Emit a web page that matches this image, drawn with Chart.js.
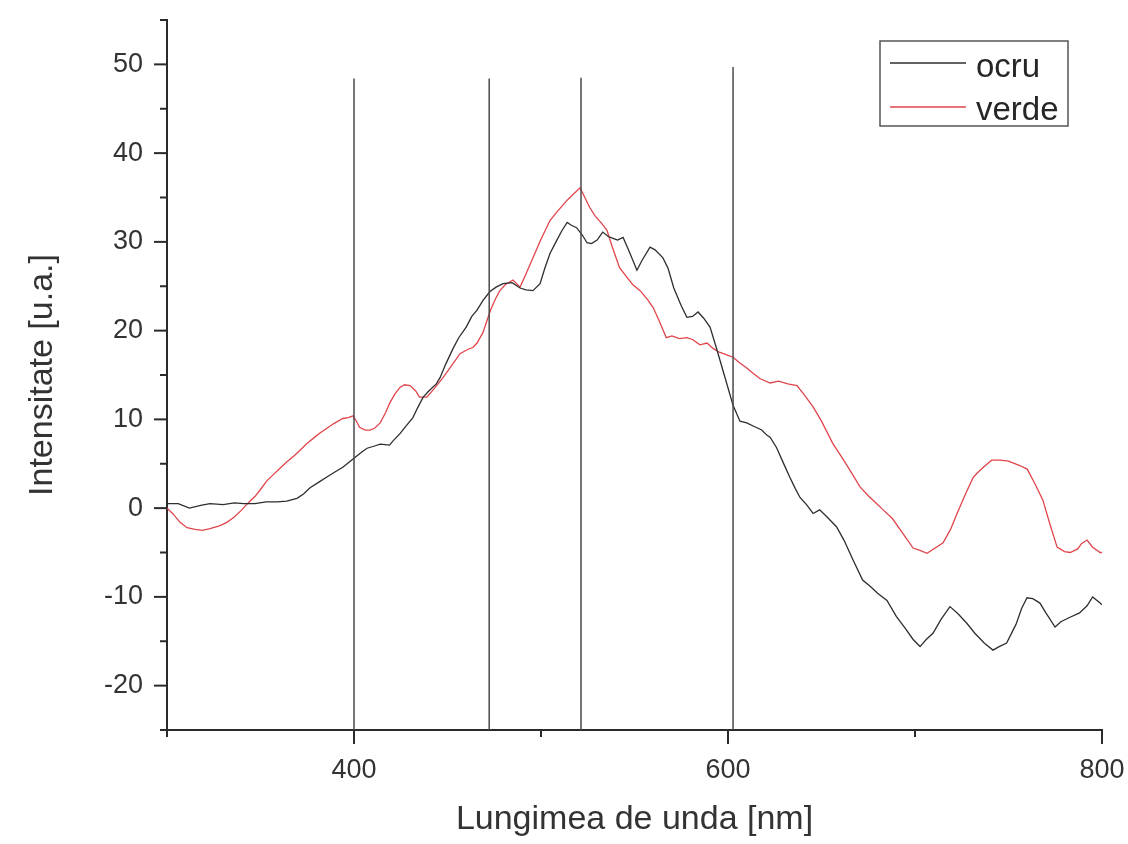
<!DOCTYPE html>
<html>
<head>
<meta charset="utf-8">
<script src="https://cdn.jsdelivr.net/npm/chart.js@4.4.1/dist/chart.umd.min.js"></script>
<style>
  html, body { margin: 0; padding: 0; background: #ffffff; }
  #wrap { width: 1128px; height: 844px; }
</style>
</head>
<body>
<div id="wrap"><canvas id="c" width="1128" height="844"></canvas></div>
<script>
// ---- data ----
const ocruX = [300,306,312,318,323,330,336,341,347,353,359,364,369.5,373,376.5,381,385.5,390,394,397,400.5,404,407,411,414,419,421,424.6,428,431.5,434,437,440,444,446,449,453,456,460,463,465.8,469,472.7,476,479.7,484.5,488.8,492,495.7,499.5,502,504.8,508,511,514,516,519,522,524.6,527,530,533,536,538.5,541,543.9,547,551.3,554,558.3,561,565.2,568,571,575,578,581,584,587,590.4,594,598,602.7,606.4,610,614,618,620.9,622.5,626,630,633,636,638.5,642,645.5,649,653,658,662,667,672,676,680,685,690,695,699,702.7,706,709.6,714,718.7,723,727.8,732,737,741.7,745,749,754,757,759.9,763,766.8,770,774.9,778,782.9,788,792,795,799,800];
const ocruY = [0.5,0.5,0.0,0.3,0.5,0.4,0.6,0.5,0.5,0.7,0.7,0.8,1.1,1.6,2.3,2.9,3.5,4.1,4.6,5.1,5.7,6.3,6.75,7.0,7.2,7.1,7.6,8.4,9.3,10.2,11.3,12.5,13.2,14.0,14.7,16.2,18.0,19.2,20.4,21.6,22.3,23.4,24.4,24.9,25.3,25.4,24.8,24.6,24.5,25.3,27.0,28.7,30.0,31.2,32.2,31.9,31.6,30.8,29.9,29.8,30.2,31.1,30.6,30.4,30.2,30.5,29.0,26.8,27.9,29.4,29.1,28.2,27.0,24.8,22.8,21.5,21.6,22.1,21.4,20.4,17.9,15.0,11.6,9.8,9.6,9.2,8.8,8.2,8.0,6.8,4.9,3.5,2.2,1.2,0.4,-0.6,-0.2,-1.0,-2.1,-3.6,-5.9,-8.1,-8.8,-9.6,-10.4,-12.2,-13.6,-14.8,-15.6,-14.8,-14.1,-12.5,-11.1,-11.9,-13.0,-14.1,-15.2,-16.0,-15.6,-15.2,-13.1,-11.3,-10.1,-10.2,-10.7,-11.8,-13.4,-12.8,-12.3,-11.8,-11.0,-10.0,-10.7,-10.9];

const verdeX = [300,303,307,310.7,315,319,323,328,332,336,340,343,347,350,353.5,357,360,364,368,371,375,379,382,385.5,389,394,397,399.5,401,403,406,408.5,411,414,417,419,422,424.6,427,430,433,435,439,443,447.6,452,456.7,461,463.6,465.8,469,471.7,473,475.5,478,481,485,488.8,492,495.7,500,504.8,509,514,517,520.9,523,526,529,532,535.3,538,542,546,549,553,557,560,563,567,570,574,578,581,585,588.8,592,595,599,602.7,606,610,613.4,617,622.5,627,632,636.9,641,645.5,650,656,661,666,670.6,675,679,683,688,693,699,703,706.4,710,715,719,722.5,727,731,733,737,741,745.5,750,756,760,764,768.4,772,776,780,783,787,789,792,795,799,800];
const verdeY = [0.0,-0.6,-1.6,-2.2,-2.4,-2.5,-2.3,-2.0,-1.6,-1.0,-0.2,0.5,1.3,2.1,3.1,3.8,4.4,5.2,5.9,6.5,7.3,8.0,8.5,9.0,9.5,10.1,10.2,10.4,9.9,9.1,8.8,8.8,9.0,9.6,10.8,11.8,12.9,13.6,13.9,13.8,13.2,12.5,12.5,13.5,14.7,16.0,17.4,17.9,18.1,18.6,19.8,21.5,22.3,23.5,24.5,25.2,25.7,24.9,26.4,28.2,30.3,32.4,33.5,34.7,35.3,36.1,35.2,33.9,32.9,32.2,31.3,29.5,27.1,26.0,25.2,24.5,23.5,22.6,21.2,19.2,19.4,19.1,19.2,19.0,18.4,18.6,18.0,17.6,17.3,17.0,16.4,15.8,15.2,14.6,14.1,14.3,14.0,13.8,12.7,11.4,9.8,7.3,5.7,4.0,2.4,1.4,0.6,-0.2,-1.2,-2.7,-4.5,-4.8,-5.1,-4.6,-3.9,-2.4,-0.6,1.6,3.4,3.9,4.7,5.4,5.4,5.3,4.8,4.4,2.8,0.9,-1.7,-4.4,-4.9,-5.0,-4.6,-4.0,-3.6,-4.4,-5.0,-5.0];

// vertical marker lines (x position, top value)
const vLineX = [400, 472.3, 521.4, 602.7];
const vLineTop = [48.4, 48.4, 48.5, 49.7];

const seriesNames = ['ocru', 'verde'];
const seriesColors = ['#2e2e2e', '#e0454b'];

const xMin = 300, xMax = 800, xStep = 100;
const yMin = -25, yMax = 55, yStep = 5;
const xLabelled = [400, 600, 800];
const yLabelled = [-20, -10, 0, 10, 20, 30, 40, 50];

const xTitle = 'Lungimea de unda [nm]';
const yTitle = 'Intensitate [u.a.]';

// ---- build datasets ----
const toPts = (xs, ys) => xs.map((x, i) => ({ x: x, y: ys[i] }));

const datasets = [];
vLineX.forEach((vx, i) => {
  datasets.push({
    label: 'marker' + i,
    data: [{ x: vx, y: yMin }, { x: vx, y: vLineTop[i] }],
    borderColor: '#4a4a4a',
    borderWidth: 1.5,
    pointRadius: 0
  });
});
datasets.push({
  label: seriesNames[0],
  data: toPts(ocruX, ocruY),
  borderColor: seriesColors[0],
  borderWidth: 1.3,
  pointRadius: 0,
  tension: 0
});
datasets.push({
  label: seriesNames[1],
  data: toPts(verdeX, verdeY),
  borderColor: seriesColors[1],
  borderWidth: 1.3,
  pointRadius: 0,
  tension: 0
});

const FONT = '"Liberation Sans", Arial, Helvetica, sans-serif';
const AXIS_COLOR = '#2b2b2b';

// tick marks (outward, major/minor)
const tickPlugin = {
  id: 'tickMarks',
  afterDraw(chart) {
    const ctx = chart.ctx;
    const xs = chart.scales.x, ys = chart.scales.y;
    ctx.save();
    ctx.strokeStyle = AXIS_COLOR;
    ctx.lineWidth = 2;
    const xAxisY = chart.chartArea.bottom;
    const yAxisX = chart.chartArea.left;
    ys.ticks.forEach(t => {
      const p = ys.getPixelForValue(t.value);
      const len = (t.value % 10 === 0) ? 13 : 7;
      ctx.beginPath();
      ctx.moveTo(yAxisX, p);
      ctx.lineTo(yAxisX - len, p);
      ctx.stroke();
    });
    xs.ticks.forEach(t => {
      const p = xs.getPixelForValue(t.value);
      const len = xLabelled.includes(t.value) ? 14 : 7;
      ctx.beginPath();
      ctx.moveTo(p, xAxisY);
      ctx.lineTo(p, xAxisY + len);
      ctx.stroke();
    });
    ctx.restore();
  }
};

// boxed legend at the top right
const legendPlugin = {
  id: 'boxLegend',
  afterDraw(chart) {
    const ctx = chart.ctx;
    const bx = 880, by = 41, bw = 188, bh = 85;
    ctx.save();
    ctx.fillStyle = '#ffffff';
    ctx.fillRect(bx, by, bw, bh);
    ctx.strokeStyle = '#555555';
    ctx.lineWidth = 1.5;
    ctx.strokeRect(bx, by, bw, bh);
    const rows = [{ ly: 63, ty: 77 }, { ly: 107, ty: 120 }];
    seriesNames.forEach((name, i) => {
      ctx.strokeStyle = seriesColors[i];
      ctx.lineWidth = 1.4;
      ctx.beginPath();
      ctx.moveTo(890, rows[i].ly);
      ctx.lineTo(966, rows[i].ly);
      ctx.stroke();
      ctx.fillStyle = '#262626';
      ctx.font = '33px ' + FONT;
      ctx.textAlign = 'left';
      ctx.textBaseline = 'alphabetic';
      ctx.fillText(name, 976, rows[i].ty);
    });
    ctx.restore();
  }
};

new Chart(document.getElementById('c'), {
  type: 'line',
  data: { datasets: datasets },
  plugins: [tickPlugin, legendPlugin],
  options: {
    responsive: false,
    animation: false,
    devicePixelRatio: 1,
    layout: { padding: { top: 20, right: 26, left: 0, bottom: 0 } },
    plugins: {
      legend: { display: false },
      tooltip: { enabled: false }
    },
    scales: {
      x: {
        type: 'linear',
        min: xMin, max: xMax,
        afterFit: s => { s.height = 114; s.paddingLeft = 0; s.paddingRight = 0; },
        grid: { display: false, drawTicks: false },
        border: { display: true, color: AXIS_COLOR, width: 2 },
        ticks: {
          stepSize: xStep,
          padding: 24,
          color: '#333333',
          font: { family: FONT, size: 27 },
          maxRotation: 0,
          autoSkip: false,
          callback: v => xLabelled.includes(v) ? String(v) : ''
        },
        title: {
          display: true,
          text: xTitle,
          color: '#333333',
          font: { family: FONT, size: 34 },
          padding: { top: 0, bottom: 4 }
        }
      },
      y: {
        type: 'linear',
        min: yMin, max: yMax,
        afterFit: s => { s.width = 167; s.paddingTop = 0; s.paddingBottom = 0; },
        grid: { display: false, drawTicks: false },
        border: { display: true, color: AXIS_COLOR, width: 2 },
        ticks: {
          stepSize: yStep,
          padding: 24,
          color: '#333333',
          font: { family: FONT, size: 27 },
          autoSkip: false,
          callback: v => yLabelled.includes(v) ? String(v) : ''
        },
        title: {
          display: true,
          text: yTitle,
          color: '#333333',
          font: { family: FONT, size: 34 },
          padding: { top: 22, bottom: 0 }
        }
      }
    }
  }
});
</script>
</body>
</html>
